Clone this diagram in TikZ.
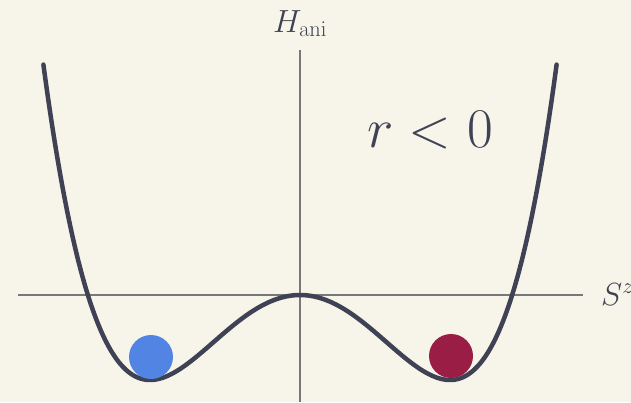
\RequirePackage{fix-cm}
\documentclass[tikz,border=0pt]{standalone}
\usepackage{tikz}
\definecolor{bg}{HTML}{F7F5E9}
\definecolor{curvec}{HTML}{3F4254}
\definecolor{axisc}{HTML}{787878}
\definecolor{ballblue}{HTML}{5285E3}
\definecolor{ballred}{HTML}{9A1D45}
\tikzset{
  axisline/.style={draw=axisc, line width=2pt},
  potential/.style={draw=curvec, line width=4.5pt, line cap=round, line join=round},
  ball/.style={circle, inner sep=0pt, minimum size=44pt},
  lbl/.style={text=curvec, inner sep=0pt, anchor=base west}
}
\begin{document}
\begin{tikzpicture}[x=1pt, y=-1pt]
  \fill[bg] (0,0) rectangle (631,402);
  \useasboundingbox (0,0) rectangle (631,402);
  \coordinate (hl) at (18,295);
  \coordinate (hr) at (583,295);
  \coordinate (vt) at (300,50);
  \coordinate (vb) at (300,402);
  \draw[axisline] (hl) -- (hr);
  \draw[axisline] (vt) -- (vb);
  \draw[potential] plot[domain=-256.6:256.6, samples=201, smooth]
    ({300+\x}, {295-85*((\x/150)*(\x/150)*(\x/150)*(\x/150)-2*(\x/150)*(\x/150))});
  \node[ball, fill=ballblue] (blue) at (151,357) {};
  \node[ball, fill=ballred] (red) at (451,356) {};
  \node[lbl, font=\fontsize{32}{38}\selectfont] (hani) at (273,32) {$H_{\mathrm{ani}}$};
  \node[lbl, font=\fontsize{32}{38}\selectfont] (sz) at (601,305) {$S^z$};
  \node[lbl, font=\fontsize{56}{66}\selectfont] (r) at (367,147) {$r<0$};
\end{tikzpicture}
\end{document}
